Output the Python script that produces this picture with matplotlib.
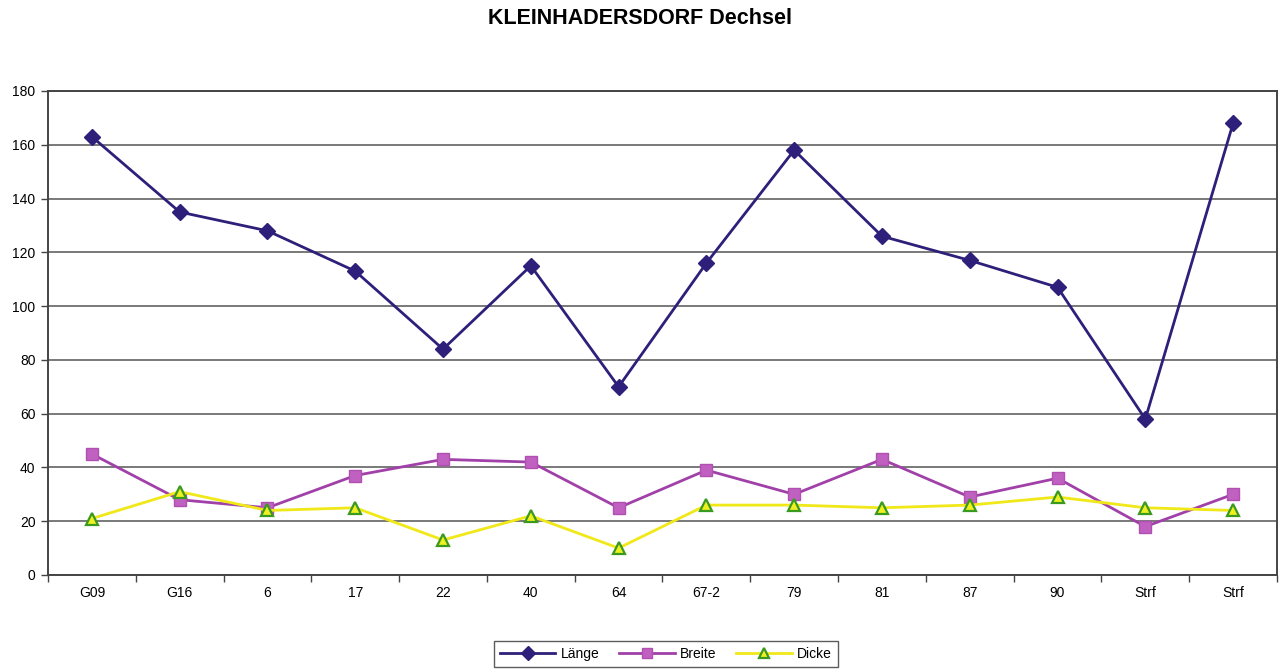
import matplotlib
matplotlib.use("Agg")
import matplotlib.pyplot as plt
from matplotlib.ticker import FixedLocator

plt.rcParams['font.family'] = ['Liberation Sans', 'DejaVu Sans']

categories = ["G09", "G16", "6", "17", "22", "40", "64", "67-2", "79", "81", "87", "90", "Strf", "Strf"]
laenge = [163, 135, 128, 113, 84, 115, 70, 116, 158, 126, 117, 107, 58, 168]
breite = [45, 28, 25, 37, 43, 42, 25, 39, 30, 43, 29, 36, 18, 30]
dicke = [21, 31, 24, 25, 13, 22, 10, 26, 26, 25, 26, 29, 25, 24]
yticks = [0, 20, 40, 60, 80, 100, 120, 140, 160, 180]

fig = plt.figure(figsize=(12.79, 6.70), dpi=100)
ax = fig.add_axes([48/1279, 1-575/670, (1277-48)/1279, (575-91)/670])

x = list(range(len(categories)))
ax.plot(x, laenge, color='#2E1F7A', lw=2, marker='D', ms=8, mfc='#2E1F7A', mec='#2E1F7A', label='Länge', zorder=4)
ax.plot(x, breite, color='#A040A8', lw=2, marker='s', ms=9, mfc='#C060C0', mec='#B050B0', label='Breite', zorder=4)
ax.plot(x, dicke, color='#F0E818', lw=2, marker='^', ms=9, mfc='#F0F020', mec='#3A9A20', mew=1.6, label='Dicke', zorder=4)

ax.set_xlim(-0.5, len(categories) - 0.5)
ax.set_ylim(0, 180)
ax.set_yticks(yticks)
ax.set_xticks(x)
ax.set_xticklabels(categories)
ax.xaxis.set_minor_locator(FixedLocator([i - 0.5 for i in range(len(categories) + 1)]))
ax.tick_params(axis='x', which='major', length=0, labelsize=10, pad=8)
ax.tick_params(axis='x', which='minor', length=5, width=1, color='#444444', direction='out')
ax.tick_params(axis='y', length=5, width=1, color='#444444', labelsize=10, pad=4)
ax.yaxis.grid(True, color='#6E6E6E', lw=1.3)
ax.set_axisbelow(True)
for s in ax.spines.values():
    s.set_color('#444444')
    s.set_linewidth(1.4)

fig.suptitle('KLEINHADERSDORF Dechsel', fontsize=15.5, fontweight='bold', y=1-18/670, va='center')

leg = fig.legend(loc='center', bbox_to_anchor=(666/1279, 1-654/670), ncol=3, frameon=True,
                 fancybox=False, edgecolor='#333333', fontsize=10, handlelength=4,
                 columnspacing=1.4, handletextpad=0.4, borderpad=0.4)
leg.get_frame().set_linewidth(1)
for h in leg.legend_handles:
    h.set_markersize(7)

fig.savefig('out.png', dpi=100)
